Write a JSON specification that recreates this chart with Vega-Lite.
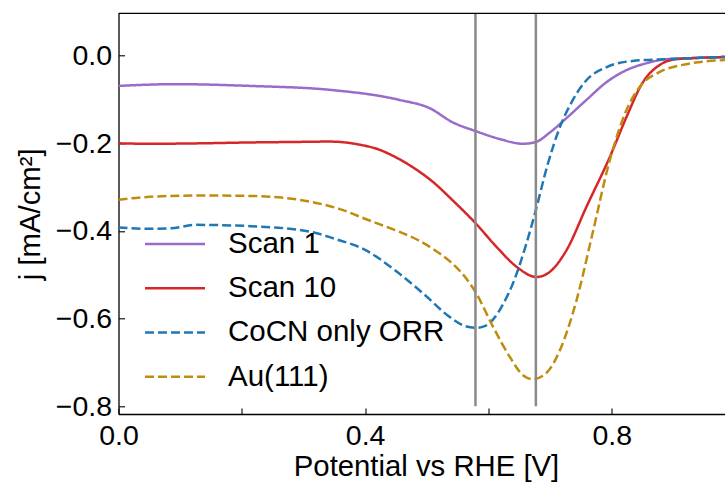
{
  "$schema": "https://vega.github.io/schema/vega-lite/v6.json",
  "width": 606.5,
  "height": 400.7,
  "autosize": {"type": "none"},
  "padding": {"left": 118.5, "top": 13.3, "right": 0, "bottom": 68},
  "background": "white",
  "config": {
    "view": {"stroke": null},
    "font": "Liberation Sans",
    "axis": {
      "domainColor": "black",
      "domainWidth": 1.3,
      "tickColor": "black",
      "tickWidth": 1.1,
      "tickSize": -6,
      "labelColor": "black",
      "titleColor": "black",
      "labelFont": "Liberation Sans",
      "titleFont": "Liberation Sans",
      "labelFontSize": 28.5,
      "titleFontSize": 29.3,
      "titleFontWeight": "normal",
      "grid": false
    },
    "legend": {"labelFont": "Liberation Sans"}
  },
  "datasets": {
    "curves": [
      {"series": "Scan 1", "x": 0.0, "y": -0.069},
      {"series": "Scan 1", "x": 0.092, "y": -0.065},
      {"series": "Scan 1", "x": 0.213, "y": -0.069},
      {"series": "Scan 1", "x": 0.343, "y": -0.078},
      {"series": "Scan 1", "x": 0.456, "y": -0.101},
      {"series": "Scan 1", "x": 0.505, "y": -0.12},
      {"series": "Scan 1", "x": 0.542, "y": -0.152},
      {"series": "Scan 1", "x": 0.579, "y": -0.172},
      {"series": "Scan 1", "x": 0.618, "y": -0.19},
      {"series": "Scan 1", "x": 0.656, "y": -0.201},
      {"series": "Scan 1", "x": 0.677, "y": -0.197},
      {"series": "Scan 1", "x": 0.699, "y": -0.176},
      {"series": "Scan 1", "x": 0.727, "y": -0.142},
      {"series": "Scan 1", "x": 0.759, "y": -0.101},
      {"series": "Scan 1", "x": 0.792, "y": -0.06},
      {"series": "Scan 1", "x": 0.824, "y": -0.033},
      {"series": "Scan 1", "x": 0.857, "y": -0.017},
      {"series": "Scan 1", "x": 0.889, "y": -0.008},
      {"series": "Scan 1", "x": 0.942, "y": -0.005},
      {"series": "Scan 1", "x": 0.984, "y": -0.003},

      {"series": "Scan 10", "x": 0.0, "y": -0.2},
      {"series": "Scan 10", "x": 0.052, "y": -0.201},
      {"series": "Scan 10", "x": 0.132, "y": -0.2},
      {"series": "Scan 10", "x": 0.213, "y": -0.198},
      {"series": "Scan 10", "x": 0.278, "y": -0.197},
      {"series": "Scan 10", "x": 0.343, "y": -0.196},
      {"series": "Scan 10", "x": 0.391, "y": -0.203},
      {"series": "Scan 10", "x": 0.42, "y": -0.213},
      {"series": "Scan 10", "x": 0.45, "y": -0.232},
      {"series": "Scan 10", "x": 0.48, "y": -0.257},
      {"series": "Scan 10", "x": 0.51, "y": -0.288},
      {"series": "Scan 10", "x": 0.542, "y": -0.33},
      {"series": "Scan 10", "x": 0.579, "y": -0.382},
      {"series": "Scan 10", "x": 0.613, "y": -0.436},
      {"series": "Scan 10", "x": 0.646, "y": -0.482},
      {"series": "Scan 10", "x": 0.678, "y": -0.505},
      {"series": "Scan 10", "x": 0.699, "y": -0.494},
      {"series": "Scan 10", "x": 0.727, "y": -0.443},
      {"series": "Scan 10", "x": 0.759, "y": -0.345},
      {"series": "Scan 10", "x": 0.797, "y": -0.231},
      {"series": "Scan 10", "x": 0.824, "y": -0.14},
      {"series": "Scan 10", "x": 0.85, "y": -0.062},
      {"series": "Scan 10", "x": 0.878, "y": -0.021},
      {"series": "Scan 10", "x": 0.905, "y": -0.008},
      {"series": "Scan 10", "x": 0.942, "y": -0.005},
      {"series": "Scan 10", "x": 0.984, "y": -0.003},

      {"series": "CoCN only ORR", "x": 0.0, "y": -0.392},
      {"series": "CoCN only ORR", "x": 0.043, "y": -0.395},
      {"series": "CoCN only ORR", "x": 0.085, "y": -0.394},
      {"series": "CoCN only ORR", "x": 0.124, "y": -0.386},
      {"series": "CoCN only ORR", "x": 0.215, "y": -0.389},
      {"series": "CoCN only ORR", "x": 0.312, "y": -0.402},
      {"series": "CoCN only ORR", "x": 0.351, "y": -0.418},
      {"series": "CoCN only ORR", "x": 0.4, "y": -0.443},
      {"series": "CoCN only ORR", "x": 0.448, "y": -0.489},
      {"series": "CoCN only ORR", "x": 0.497, "y": -0.546},
      {"series": "CoCN only ORR", "x": 0.537, "y": -0.596},
      {"series": "CoCN only ORR", "x": 0.562, "y": -0.617},
      {"series": "CoCN only ORR", "x": 0.579, "y": -0.621},
      {"series": "CoCN only ORR", "x": 0.594, "y": -0.617},
      {"series": "CoCN only ORR", "x": 0.607, "y": -0.603},
      {"series": "CoCN only ORR", "x": 0.623, "y": -0.569},
      {"series": "CoCN only ORR", "x": 0.64, "y": -0.519},
      {"series": "CoCN only ORR", "x": 0.662, "y": -0.427},
      {"series": "CoCN only ORR", "x": 0.677, "y": -0.352},
      {"series": "CoCN only ORR", "x": 0.695, "y": -0.254},
      {"series": "CoCN only ORR", "x": 0.716, "y": -0.163},
      {"series": "CoCN only ORR", "x": 0.737, "y": -0.101},
      {"series": "CoCN only ORR", "x": 0.759, "y": -0.056},
      {"series": "CoCN only ORR", "x": 0.792, "y": -0.026},
      {"series": "CoCN only ORR", "x": 0.834, "y": -0.012},
      {"series": "CoCN only ORR", "x": 0.889, "y": -0.008},
      {"series": "CoCN only ORR", "x": 0.942, "y": -0.005},
      {"series": "CoCN only ORR", "x": 0.984, "y": -0.003},

      {"series": "Au(111)", "x": 0.0, "y": -0.329},
      {"series": "Au(111)", "x": 0.051, "y": -0.322},
      {"series": "Au(111)", "x": 0.132, "y": -0.319},
      {"series": "Au(111)", "x": 0.213, "y": -0.32},
      {"series": "Au(111)", "x": 0.294, "y": -0.329},
      {"series": "Au(111)", "x": 0.359, "y": -0.35},
      {"series": "Au(111)", "x": 0.405, "y": -0.375},
      {"series": "Au(111)", "x": 0.456, "y": -0.402},
      {"series": "Au(111)", "x": 0.485, "y": -0.42},
      {"series": "Au(111)", "x": 0.51, "y": -0.441},
      {"series": "Au(111)", "x": 0.539, "y": -0.471},
      {"series": "Au(111)", "x": 0.565, "y": -0.51},
      {"series": "Au(111)", "x": 0.579, "y": -0.539},
      {"series": "Au(111)", "x": 0.607, "y": -0.617},
      {"series": "Au(111)", "x": 0.635, "y": -0.688},
      {"series": "Au(111)", "x": 0.656, "y": -0.729},
      {"series": "Au(111)", "x": 0.672, "y": -0.738},
      {"series": "Au(111)", "x": 0.694, "y": -0.724},
      {"series": "Au(111)", "x": 0.716, "y": -0.672},
      {"series": "Au(111)", "x": 0.743, "y": -0.558},
      {"series": "Au(111)", "x": 0.769, "y": -0.405},
      {"series": "Au(111)", "x": 0.797, "y": -0.238},
      {"series": "Au(111)", "x": 0.824, "y": -0.124},
      {"series": "Au(111)", "x": 0.845, "y": -0.072},
      {"series": "Au(111)", "x": 0.878, "y": -0.037},
      {"series": "Au(111)", "x": 0.915, "y": -0.021},
      {"series": "Au(111)", "x": 0.984, "y": -0.01}
    ],
    "vlines": [{"v": 0.579}, {"v": 0.677}]
  },
  "layer": [
    {
      "data": {"name": "curves"},
      "mark": {"type": "line", "strokeWidth": 2.5, "interpolate": "monotone", "clip": true},
      "encoding": {
        "x": {
          "field": "x", "type": "quantitative",
          "scale": {"domain": [0, 0.9838], "nice": false, "zero": false},
          "axis": {
            "title": "Potential vs RHE [V]",
            "values": [0, 0.2, 0.4, 0.6, 0.8],
            "format": ".1f",
            "labelExpr": "indexof(['0.0','0.4','0.8'], datum.label) >= 0 ? datum.label : ''",
            "labelPadding": 13,
            "labelFlush": false,
            "labelOverlap": false,
            "titleX": 307.5,
            "titleY": 61.5,
            "titleBaseline": "alphabetic",
            "titleAlign": "center"
          }
        },
        "y": {
          "field": "y", "type": "quantitative",
          "scale": {"domain": [-0.8176, 0.0967], "nice": false, "zero": false},
          "axis": {
            "title": "j [mA/cm²]",
            "values": [0, -0.2, -0.4, -0.6, -0.8],
            "format": ".1f",
            "labelPadding": 13,
            "labelFlush": false,
            "labelOverlap": false,
            "titleX": -88,
            "titleY": 200.5,
            "titleAngle": -90,
            "titleAlign": "center",
            "titleBaseline": "middle"
          }
        },
        "color": {
          "field": "series", "type": "nominal",
          "scale": {
            "domain": ["Scan 1", "Scan 10", "CoCN only ORR", "Au(111)"],
            "range": ["#9a6cc9", "#d62728", "#1f77b4", "#c08c0e"]
          },
          "legend": {
            "title": null,
            "orient": "none",
            "legendX": 41.75,
            "legendY": 216,
            "padding": 0,
            "symbolType": "M-5,0H5",
            "symbolSize": 144,
            "symbolStrokeWidth": 2.5,
            "labelFontSize": 29.5,
            "labelColor": "black",
            "labelOffset": 38.25,
            "rowPadding": 13.2,
            "labelLimit": 400
          }
        },
        "strokeDash": {
          "field": "series", "type": "nominal",
          "scale": {
            "domain": ["Scan 1", "Scan 10", "CoCN only ORR", "Au(111)"],
            "range": [[1, 0], [1, 0], [9, 4], [9, 4]]
          },
          "legend": null
        }
      }
    },
    {
      "data": {"name": "vlines"},
      "mark": {"type": "rule", "color": "#8a8a8a", "strokeWidth": 2.5, "clip": true},
      "encoding": {
        "x": {"field": "v", "type": "quantitative"},
        "y": {"datum": -0.8},
        "y2": {"datum": 0.0967}
      }
    },
    {
      "data": {"values": [{}]},
      "mark": {"type": "rule", "color": "black", "strokeWidth": 1.3},
      "encoding": {
        "x": {"datum": 0},
        "x2": {"datum": 0.9838},
        "y": {"datum": 0.0967}
      }
    }
  ]
}
